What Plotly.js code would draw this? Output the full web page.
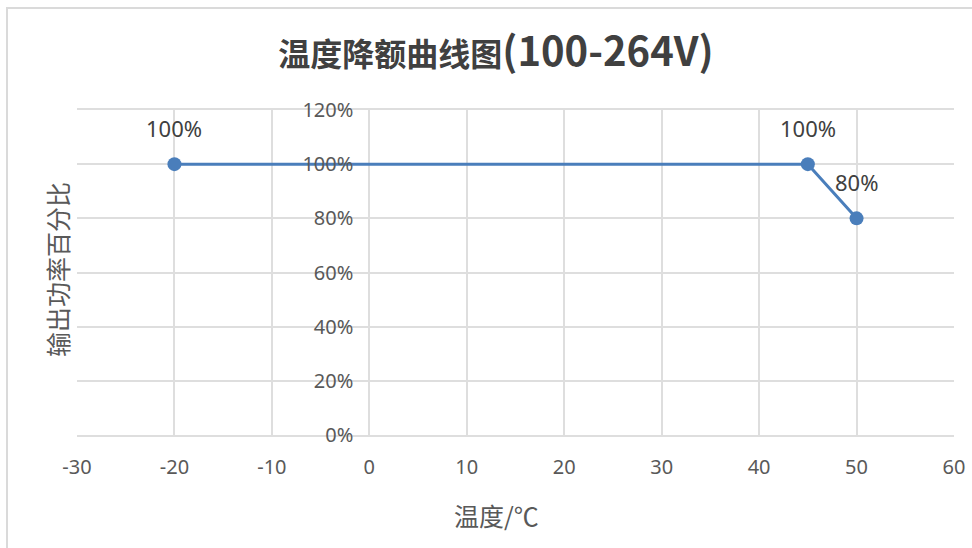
<!DOCTYPE html>
<html>
<head>
<meta charset="utf-8">
<script src="https://cdn.plot.ly/plotly-3.0.1.min.js"></script>
<style>
html,body{margin:0;padding:0;background:#fff;}
#wrap{position:absolute;left:0;top:0;width:972px;height:548px;overflow:hidden;}
#frame{position:absolute;left:6px;top:7px;width:1000px;height:600px;border-left:2px solid #dadada;border-top:2px solid #dadada;box-sizing:border-box;}
#chart{position:absolute;left:0;top:0;width:972px;height:548px;}
</style>
</head>
<body>
<div id="wrap"><div id="frame"></div><div id="chart"></div></div>
<script>
const temperature = [-20, 45, 50];
const powerPct = [100, 100, 80];
const pointLabels = ['100%', '100%', '80%'];
const xTicks = [-30, -20, -10, 0, 10, 20, 30, 40, 50, 60];
const yTicks = [0, 20, 40, 60, 80, 100, 120];
const yTickText = ['0%', '20%', '40%', '60%', '80%', '100%', '120%'];

const fontFam = '"Noto Sans", "Noto Sans CJK SC", sans-serif';
const cjkFam = '"Noto Sans CJK SC", "Noto Sans", sans-serif';

const trace = {
  x: temperature, y: powerPct, type: 'scatter', mode: 'lines+markers',
  line: {color: '#4a7ebb', width: 3},
  marker: {color: '#4a7ebb', size: 14},
  hoverinfo: 'skip', showlegend: false
};

const annotations = temperature.map((t, i) => ({
  x: t, y: powerPct[i], xref: 'x', yref: 'y', text: pointLabels[i],
  showarrow: false, yshift: 36, font: {family: fontFam, size: 22, color: '#404040'}
}));

const layout = {
  width: 972, height: 548,
  paper_bgcolor: 'rgba(0,0,0,0)', plot_bgcolor: 'rgba(0,0,0,0)',
  margin: {l: 77, r: 18, t: 110, b: 113},
  title: {text: '<span style="font-size:32px">温度降额曲线图</span>(100-264V)', x: 496/972, xanchor: 'center', y: 1 - 52/548, yanchor: 'middle',
          font: {family: cjkFam, size: 40, color: '#404040', weight: 'bold'}},
  xaxis: {
    range: [-30, 60], tickvals: xTicks, ticktext: xTicks.map(String),
    showgrid: true, gridcolor: '#dedede', gridwidth: 2, zeroline: false,
    showline: true, linecolor: '#dedede', linewidth: 2, mirror: true,
    ticks: '', ticklabelstandoff: 13,
    tickfont: {family: fontFam, size: 20, color: '#595959'}
  },
  yaxis: {
    range: [0, 120], tickvals: yTicks, ticktext: yTickText,
    anchor: 'free', position: 1/3,
    showgrid: true, gridcolor: '#dedede', gridwidth: 2, zeroline: false,
    showline: false, ticks: '', ticklabelstandoff: 16,
    tickfont: {family: fontFam, size: 20, color: '#595959'}
  },
  annotations: annotations.concat([{
    xref: 'paper', yref: 'paper', x: -0.023, y: 0.51, xanchor: 'center', yanchor: 'middle',
    text: '输出功率百分比', textangle: -90, showarrow: false,
    font: {family: cjkFam, size: 25, color: '#595959'}
  }, {
    xref: 'x', yref: 'paper', x: 13, y: -0.245, xanchor: 'center', yanchor: 'middle',
    text: '温度/℃', showarrow: false,
    font: {family: cjkFam, size: 25, color: '#595959'}
  }])
};

Plotly.newPlot('chart', [trace], layout, {displayModeBar: false, staticPlot: true});
</script>
</body>
</html>
